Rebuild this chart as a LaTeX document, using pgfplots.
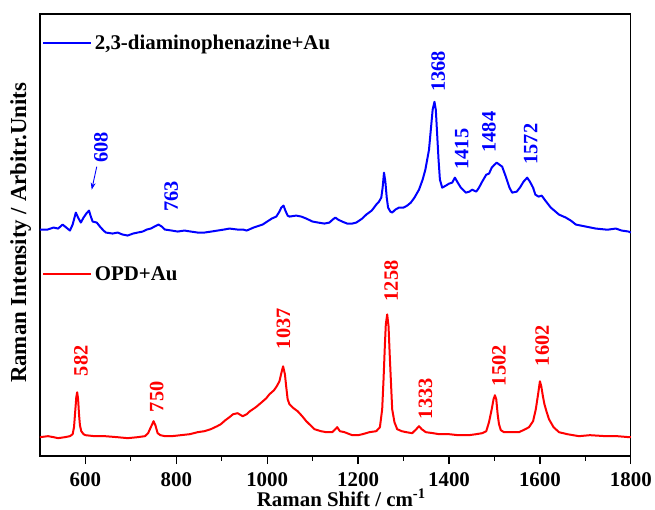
\documentclass[border=0pt]{standalone}
\usepackage{pgfplots}
\pgfplotsset{compat=1.18}
\usepackage{fontspec}
\setmainfont{Liberation Serif}
\usetikzlibrary{arrows.meta}

\definecolor{specblue}{RGB}{0,0,255}
\definecolor{specred}{RGB}{255,0,0}

\newcommand{\bigbf}{\fontsize{21}{24}\selectfont\bfseries}
\newcommand{\ylabbf}{\fontsize{23}{26}\selectfont\bfseries}
\newcommand{\peakbf}{\fontsize{20.5}{24}\selectfont\bfseries}

\pgfplotsset{
  specaxis/.style={
    scale only axis, width=592bp, height=443bp,
    xmin=500, xmax=1800, ymin=53, ymax=496,
    clip=false,
    legend cell align=left,
    legend image code/.code={\draw[##1] (0bp,0bp) -- (48bp,0bp);},
    legend style={draw=none, fill=none, font=\bigbf,
      inner xsep=0pt, inner ysep=0pt,
      nodes={inner xsep=2.5bp, inner ysep=1bp}},
  }
}

\begin{document}
\begin{tikzpicture}
\begin{axis}[specaxis, name=main,
  axis line style={line width=1.3bp},
  xtick={600,800,...,1800},
  minor x tick num=1,
  xtick pos=bottom,
  ytick=\empty,
  tick align=outside,
  major tick length=8bp, minor tick length=4.5bp,
  every tick/.style={line width=1.3bp, black},
  xticklabel style={font=\bigbf, yshift=-5bp},
  /pgf/number format/assume math mode=true,
  /pgf/number format/1000 sep={},
  xlabel={Raman Shift / cm\textsuperscript{-1}},
  xlabel style={font=\bigbf, at={(axis description cs:0.51,0)}, anchor=base, yshift=-50bp},
  ylabel={Raman Intensity / Arbitr.Units},
  ylabel style={font=\ylabbf, at={(axis description cs:-0.009,0.505)}, anchor=south},
  legend style={at={(0.004,0.955)}, anchor=north west},
]
% SERS spectrum of the oxidation product on gold
\addplot[specblue, line width=2bp, line join=round] coordinates {
(500,280) (517,280) (530,282) (540,281) (550,285) (558,282) (566,279) (572,285)
(579,297) (584,292) (590,287) (596,292) (602,296) (608,299) (612,293) (616,288)
(625,287) (632,283) (640,279) (645,277) (660,276) (671,277) (682,275) (693,274)
(705,276) (715,277) (726,278) (735,280) (744,281) (752,283) (761,285) (768,283)
(775,280) (790,279) (803,278) (818,279) (832,278) (847,277) (862,277) (877,278)
(891,279) (905,280) (917,281) (935,280) (947,280) (955,279) (970,282) (990,285)
(1000,288) (1010,291) (1020,293) (1027,298) (1031,302) (1036,304) (1040,299)
(1045,294) (1049,293) (1064,294) (1075,293) (1086,291) (1100,288) (1112,287)
(1126,286) (1137,287) (1144,290) (1150,292) (1156,290) (1165,288) (1176,286)
(1187,286) (1196,287) (1209,291) (1218,295) (1230,299) (1240,305) (1246,308)
(1251,312) (1254,322) (1257,337) (1260,328) (1263,312) (1266,302) (1271,298)
(1275,297) (1282,300) (1290,302) (1300,302) (1308,304) (1316,307) (1324,312)
(1334,320) (1342,330) (1348,340) (1352,350) (1356,360) (1360,380) (1364,400)
(1368,408) (1371,400) (1374,375) (1377,350) (1380,330) (1385,322) (1393,324)
(1400,326) (1407,327) (1413,332) (1418,328) (1426,322) (1437,317) (1445,318)
(1451,320) (1460,318) (1466,322) (1473,328) (1482,335) (1488,336) (1494,342)
(1500,345) (1505,347) (1511,345) (1517,343) (1525,333) (1533,322) (1539,317)
(1549,318) (1556,322) (1564,328) (1572,332) (1578,328) (1585,322) (1590,315)
(1597,313) (1604,314) (1612,309) (1624,302) (1642,295) (1657,292) (1668,289)
(1679,285) (1701,283) (1723,281) (1745,280) (1751,280) (1767,281) (1780,279)
(1795,278) (1800,277)
};
\addlegendentry{2,3-diaminophenazine+Au}

% band positions of the upper spectrum
\begin{scope}[specblue, font=\peakbf]
\node[rotate=90, anchor=west, inner sep=0pt] at (axis cs:634,347) {608};
\node[rotate=90, anchor=west, inner sep=0pt] at (axis cs:789,298) {763};
\node[rotate=90, anchor=west, inner sep=0pt] at (axis cs:1376,418) {1368};
\node[rotate=90, anchor=west, inner sep=0pt] at (axis cs:1428,340) {1415};
\node[rotate=90, anchor=west, inner sep=0pt] at (axis cs:1488,357) {1484};
\node[rotate=90, anchor=west, inner sep=0pt] at (axis cs:1580,345) {1572};
\draw[line width=0.9bp, -{Stealth[length=7bp, width=5bp]}] (axis cs:625,343) -- (axis cs:614,320);
\end{scope}
\end{axis}

\begin{axis}[specaxis, hide axis,
  legend style={at={(0.004,0.411)}, anchor=west},
]
% SERS spectrum of o-phenylenediamine on gold
\addplot[specred, line width=2bp, line join=round] coordinates {
(500,72) (518,73) (530,72) (540,71) (555,72) (566,73) (572,75) (575,82) (578,100)
(580,112) (582,117) (584,110) (586,95) (588,84) (591,78) (596,75) (600,74)
(620,73) (643,73) (670,72) (693,71) (715,72) (731,73) (738,76) (744,82) (750,88)
(754,84) (759,76) (765,74) (775,73) (790,73) (810,74) (830,75) (847,77) (862,78)
(876,80) (890,83) (898,85) (908,89) (917,92) (925,95) (935,96) (946,93) (955,95)
(962,98) (975,102) (988,107) (998,111) (1005,115) (1015,119) (1021,123)
(1027,128) (1031,136) (1035,143) (1039,135) (1042,122) (1045,110) (1049,105)
(1058,101) (1067,98) (1077,93) (1086,88) (1095,84) (1104,80) (1118,78) (1130,77)
(1143,77) (1150,80) (1154,82) (1160,78) (1170,77) (1187,74) (1200,74) (1210,75)
(1225,77) (1240,78) (1248,82) (1253,100) (1256,130) (1259,165) (1261,185)
(1264,195) (1267,183) (1270,150) (1272,130) (1275,100) (1280,87) (1286,80)
(1296,78) (1306,77) (1319,76) (1328,80) (1334,83) (1340,80) (1349,77) (1365,76)
(1378,75) (1400,75) (1420,74) (1444,74) (1460,75) (1473,76) (1482,78) (1488,87)
(1494,100) (1498,110) (1501,114) (1504,110) (1507,95) (1510,85) (1514,79)
(1521,77) (1540,77) (1554,77) (1568,80) (1576,82) (1585,88) (1591,100) (1596,115)
(1600,128) (1603,123) (1607,112) (1610,105) (1615,97) (1620,90) (1630,82)
(1642,77) (1660,75) (1686,73) (1710,74) (1745,73) (1770,73) (1796,72) (1800,72)
};
\addlegendentry{OPD+Au}

% band positions of the lower spectrum
\begin{scope}[specred, font=\peakbf]
\node[rotate=90, anchor=west, inner sep=0pt] at (axis cs:590,133) {582};
\node[rotate=90, anchor=west, inner sep=0pt] at (axis cs:757,97) {750};
\node[rotate=90, anchor=west, inner sep=0pt] at (axis cs:1036,160) {1037};
\node[rotate=90, anchor=west, inner sep=0pt] at (axis cs:1273,208) {1258};
\node[rotate=90, anchor=west, inner sep=0pt] at (axis cs:1348,90) {1333};
\node[rotate=90, anchor=west, inner sep=0pt] at (axis cs:1510,123) {1502};
\node[rotate=90, anchor=west, inner sep=0pt] at (axis cs:1605,143) {1602};
\end{scope}
\end{axis}

% page frame
\path (main.south west) ++(-40bp,-53bp) rectangle ++(655bp,510bp);
\end{tikzpicture}
\end{document}
